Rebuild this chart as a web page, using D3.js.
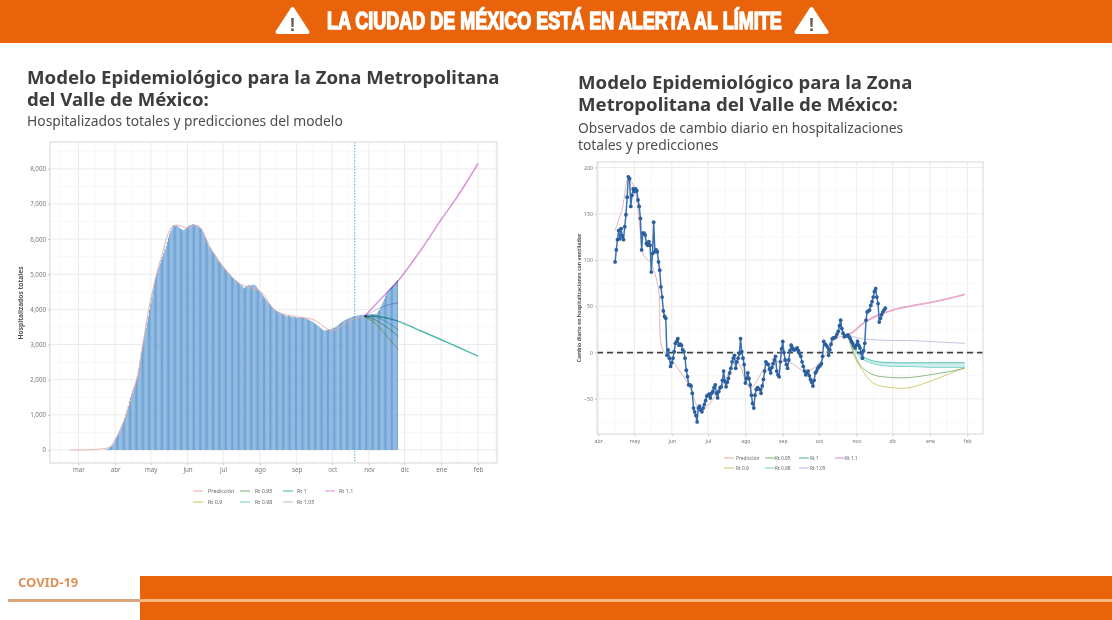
<!DOCTYPE html>
<html>
<head>
<meta charset="utf-8">
<script src="https://cdn.jsdelivr.net/npm/d3@7"></script>
<style>
  body { margin: 0; background: #fff; }
  svg { display: block; font-family: "Noto Sans", sans-serif; }
  .panel { filter: blur(0.7px); }
  .soft { filter: blur(0.45px); }
  .domain { display: none; }
</style>
</head>
<body>
<script>
// hospitalizados totales, un valor por dia desde el 24 de marzo
const hospStart = new Date(2020, 2, 24);
const hospValues = [10, 25, 40, 60, 85, 110, 140, 210, 280, 350, 420, 490, 560, 640, 710, 790, 900, 1010, 1120, 1250,
  1380, 1500, 1600, 1700, 1800, 1900, 2000, 2100, 2320, 2540, 2760, 2940, 3120, 3300, 3470, 3630, 3800, 3980, 4170,
  4350, 4540, 4720, 4900, 5010, 5110, 5220, 5310, 5410, 5500, 5600, 5700, 5800, 5920, 6040, 6150, 6230, 6310, 6380,
  6400, 6370, 6390, 6360, 6330, 6300, 6280, 6250, 6260, 6290, 6310, 6340, 6380, 6390, 6400, 6430, 6410, 6420, 6400,
  6380, 6360, 6330, 6300, 6280, 6200, 6130, 6050, 5970, 5880, 5800, 5750, 5690, 5640, 5600, 5550, 5500, 5450, 5400,
  5350, 5310, 5260, 5220, 5180, 5130, 5090, 5050, 5020, 4980, 4940, 4910, 4870, 4840, 4820, 4790, 4760, 4730, 4700,
  4670, 4630, 4600, 4640, 4670, 4680, 4700, 4670, 4680, 4710, 4690, 4690, 4650, 4600, 4560, 4510, 4470, 4420, 4370,
  4330, 4280, 4240, 4190, 4150, 4110, 4070, 4030, 4010, 3980, 3960, 3940, 3920, 3900, 3880, 3870, 3850, 3830, 3820,
  3800, 3820, 3810, 3780, 3790, 3780, 3790, 3770, 3750, 3760, 3780, 3790, 3780, 3770, 3780, 3750,
  3740, 3720, 3710, 3690, 3670, 3660, 3640, 3610, 3590, 3560, 3530, 3510, 3480, 3450, 3420, 3400, 3390, 3420, 3410,
  3430, 3420, 3440, 3450, 3480, 3470, 3500, 3520, 3550, 3580, 3610, 3640, 3660, 3680, 3700, 3710, 3730, 3740, 3760,
  3770, 3790, 3800, 3810, 3820, 3830, 3820, 3830, 3840, 3840, 3850, 3840, 3850, 3850, 3860, 3850, 3860, 3860, 3870,
  3860, 3870, 3880, 3880, 3950, 3990, 4060,
  4140, 4220, 4300, 4380, 4450, 4500, 4550, 4600, 4630, 4670, 4700, 4740, 4790, 4830];

const predDatesL = ["2020-02-23", "2020-03-10", "2020-03-20", "2020-03-27", "2020-04-01", "2020-04-10", "2020-04-20",
  "2020-04-25", "2020-05-01", "2020-05-10", "2020-05-20", "2020-06-01", "2020-06-10", "2020-06-20", "2020-07-01",
  "2020-07-15", "2020-08-01", "2020-08-15", "2020-09-01", "2020-09-15", "2020-10-01", "2020-10-15", "2020-10-28"];
const predValuesL = [0, 5, 30, 80, 300, 980, 2150, 3150, 4300, 5500, 6380, 6330, 6380, 5780, 5220, 4730, 4520, 3950,
  3790, 3710, 3400, 3670, 3800];

// escenarios panel izquierdo
const scenDatesL = ["2020-10-28", "2020-11-05", "2020-11-15", "2020-11-26", "2020-12-15", "2021-01-01", "2021-01-15", "2021-02-01"];
const rt11L = [3800, 4080, 4440, 4830, 5700, 6560, 7230, 8150];
const rt1L = [3800, 3810, 3760, 3660, 3385, 3135, 2930, 2670];
const rt105L = [3800, 3950, 4110, 4190];
const rt098L = [3800, 3790, 3660, 3410];
const rt095L = [3800, 3720, 3520, 3225];
const rt09L = [3800, 3640, 3280, 2845];

// cambio diario observado, un valor por dia desde el 15 de abril
const changeStart = new Date(2020, 3, 15);
const changeValues = [98, 111, 122, 132, 123, 134, 126, 122, 136, 149,
  168, 190, 188, 158, 170, 177, 174, 177, 175, 165,
  158, 145, 111, 129, 129, 127, 118, 116, 120, 116,
  87, 107, 141, 109, 111, 109, 98, 89, 71, 60,
  45, 39, 37, -3, 3, -6, -15, -11, -6, 1,
  10, 12, 15, 8, 9, 8, 3, 1, -6, -19,
  -26, -35, -35, -36, -44, -60, -64, -68, -75, -60,
  -58, -62, -64, -60, -56, -52, -47, -46, -45, -49,
  -44, -42, -38, -35, -44, -49, -42, -38, -37, -30,
  -20, -31, -37, -32, -28, -22, -17, -10, -6, -3,
  -17, -10, -6, -1, 15, 1, -6, -13, -33, -28,
  -22, -28, -35, -46, -55, -60, -46, -40, -38, -39,
  -40, -44, -36, -29, -20, -10, -12, -13, -18, -22,
  -16, -12, -8, -4, -20, -24, -26, -10, 4, 12,
  0, -8, -13, -17, -8, 2, 8, 5, 3, 3,
  4, 5, 2, -1, -4, -10, -15, -20, -24, -22,
  -20, -25, -29, -32, -36, -30, -22, -20, -17, -15,
  -14, -12, -4, 12, 9, 8, 6, -3, 3, 9,
  15, 16, 16, 17, 20, 23, 29, 35, 26, 21,
  17, 18, 18, 19, 17, 15, 12, 10, 7, 5,
  8, 12, 8, 5, 0, -6, 2, 10, 35, 44,
  45, 46, 51, 55, 60, 66, 69, 60, 53, 33,
  37, 41, 44, 46, 48];

const predDatesR = ["2020-04-15", "2020-04-21", "2020-04-26", "2020-05-01", "2020-05-05", "2020-05-09", "2020-05-14",
  "2020-05-21", "2020-05-24", "2020-06-01", "2020-06-15", "2020-06-25", "2020-07-10", "2020-07-25", "2020-08-05",
  "2020-08-20", "2020-09-05", "2020-09-20", "2020-10-01", "2020-10-15", "2020-10-25"];
const predValuesR = [132, 156, 188, 178, 141, 104, 98, 69, 5, -8, -35, -62, -42, -10, -38, -13, -10, -20, -12, 15, 19];

const scenDatesR = ["2020-10-25", "2020-10-30", "2020-11-05", "2020-11-15", "2020-12-01", "2020-12-15", "2021-01-01", "2021-01-15", "2021-01-30"];
const rt11R = [19, 23, 30, 38, 46, 50, 54, 58, 63];
const rt105R = [19, 17, 15, 14, 13, 13, 12, 11, 10];
const rt1R = [19, 6, -3, -9, -11, -11, -11, -11, -11];
const rt098R = [19, 4, -6, -12, -15, -15, -16, -16, -16];
const rt095R = [19, 0, -15, -24, -27, -27, -24, -21, -17];
const rt09R = [19, -3, -17, -33, -38, -38, -31, -24, -16];

const monthLabels = ["mar", "abr", "may", "jun", "jul", "ago", "sep", "oct", "nov", "dic", "ene", "feb"];
const monthDates = d3.timeMonth.range(new Date(2020, 2, 1), new Date(2021, 2, 1));
const cutDate = "2020-10-20";
const hospTicks = [0, 1000, 2000, 3000, 4000, 5000, 6000, 7000, 8000];
const changeTicks = [-50, 0, 50, 100, 150, 200];

const legendRow1 = ["Predicción", "Rt 0.95", "Rt 1", "Rt 1.1"];
const legendRow2 = ["Rt 0.9", "Rt 0.98", "Rt 1.05"];

const colors = {
  "Predicción": "#e8aaa4", "Rt 0.9": "#c9c562", "Rt 0.95": "#78b06e", "Rt 0.98": "#72d0c4",
  "Rt 1": "#3fb5a8", "Rt 1.05": "#c4b0e2", "Rt 1.1": "#d88ad8"
};

const parseDay = d3.timeParse("%Y-%m-%d");
const width = 1112, height = 620, orange = "#e8630a";
const svg = d3.select("body").append("svg").attr("width", width).attr("height", height);

// banda superior
svg.append("rect").attr("width", width).attr("height", 43).attr("fill", orange);
const head = svg.append("g").attr("class", "soft");
const headText = head.append("text").attr("font-family", "Liberation Sans").attr("font-weight", 700).attr("font-size", 24)
  .attr("fill", "#fff").attr("stroke", "#fff").attr("stroke-width", 1.5)
  .text("LA CIUDAD DE MÉXICO ESTÁ EN ALERTA AL LÍMITE");
headText.attr("transform", `translate(327,29) scale(${455 / headText.node().getComputedTextLength()},1)`);
[292.5, 811.5].forEach(cx => {
  head.append("path").attr("d", `M${cx},9 L${cx + 15},32 L${cx - 15},32 Z`)
    .attr("fill", "#fff").attr("stroke", "#fff").attr("stroke-width", 4).attr("stroke-linejoin", "round");
  head.append("text").attr("x", cx).attr("y", 31).attr("text-anchor", "middle")
    .attr("font-family", "Liberation Sans").attr("font-weight", 700).attr("font-size", 18).attr("fill", "#6b5a4a").text("!");
});

// banda inferior
svg.append("rect").attr("x", 140).attr("y", 576).attr("width", width - 140).attr("height", 44).attr("fill", orange);
svg.append("rect").attr("x", 140).attr("y", 599).attr("width", width - 140).attr("height", 3).attr("fill", "#fbb681");
svg.append("rect").attr("x", 8).attr("y", 599).attr("width", 132).attr("height", 3).attr("fill", "#dba57c");
svg.append("text").attr("class", "soft").attr("x", 18).attr("y", 587).attr("font-size", 13).attr("font-weight", 700)
  .attr("fill", "#dc9158").text("COVID-19");

// titulos
function titleBlock(x, lines, bold) {
  const t = svg.append("text").attr("class", "soft").attr("font-size", bold ? 18.6 : 13.85)
    .attr("font-weight", bold ? 700 : 400).attr("fill", bold ? "#3d3d3d" : "#4d4d4d");
  lines.forEach(l => t.append("tspan").attr("x", x).attr("y", l.y).text(l.t));
}
titleBlock(27, [{ t: "Modelo Epidemiológico para la Zona Metropolitana", y: 84 }, { t: "del Valle de México:", y: 106 }], true);
titleBlock(27, [{ t: "Hospitalizados totales y predicciones del modelo", y: 126 }], false);
titleBlock(578, [{ t: "Modelo Epidemiológico para la Zona", y: 89 }, { t: "Metropolitana del Valle de México:", y: 111 }], true);
titleBlock(578, [{ t: "Observados de cambio diario en hospitalizaciones", y: 133 }, { t: "totales y predicciones", y: 150 }], false);

function drawFrame(g, x, y, ticks, dates, labels, fontSize) {
  const [x0, x1] = x.range(), [y1, y0] = y.range();
  const step = ticks[1] - ticks[0];
  const minorY = d3.range(ticks[0] - step / 2, y.domain()[1], step).filter(v => y(v) > y0 && y(v) < y1);
  const minorX = d3.timeMonth.range(new Date(2020, 1, 1), new Date(2021, 2, 1))
    .map(d => d3.timeDay.offset(d, 14)).filter(d => x(d) > x0 && x(d) < x1);

  g.selectAll(".minorY").data(minorY).join("line").attr("x1", x0).attr("x2", x1)
    .attr("y1", d => y(d)).attr("y2", d => y(d)).attr("stroke", "#f3f3f3").attr("stroke-width", 0.6);
  g.selectAll(".minorX").data(minorX).join("line").attr("y1", y0).attr("y2", y1)
    .attr("x1", d => x(d)).attr("x2", d => x(d)).attr("stroke", "#f3f3f3").attr("stroke-width", 0.6);
  g.selectAll(".majorY").data(ticks).join("line").attr("x1", x0).attr("x2", x1)
    .attr("y1", d => y(d)).attr("y2", d => y(d)).attr("stroke", "#e9e9e9").attr("stroke-width", 0.9);
  g.selectAll(".majorX").data(dates).join("line").attr("y1", y0).attr("y2", y1)
    .attr("x1", d => x(d)).attr("x2", d => x(d)).attr("stroke", "#e9e9e9").attr("stroke-width", 0.9);

  const axisX = g.append("g").attr("transform", `translate(0,${y1})`)
    .call(d3.axisBottom(x).tickValues(dates).tickFormat((d, i) => labels[i]).tickSize(2).tickPadding(3));
  const axisY = g.append("g").attr("transform", `translate(${x0},0)`)
    .call(d3.axisLeft(y).tickValues(ticks).tickFormat(d3.format(",")).tickSize(2).tickPadding(2));
  [axisX, axisY].forEach(a => {
    a.selectAll("text").attr("font-size", fontSize).attr("fill", "#777").attr("font-family", "Noto Sans");
    a.selectAll("line").attr("stroke", "#999").attr("stroke-width", 0.6);
  });
}

function drawBorder(g, x, y) {
  const [x0, x1] = x.range(), [y1, y0] = y.range();
  g.append("rect").attr("x", x0).attr("y", y0).attr("width", x1 - x0).attr("height", y1 - y0)
    .attr("fill", "none").attr("stroke", "#dcdcdc").attr("stroke-width", 1.2);
}

function drawLegend(g, xs, textXs, rowYs, fontSize) {
  [legendRow1, legendRow2].forEach((row, r) => {
    row.forEach((name, i) => {
      g.append("line").attr("x1", xs[i]).attr("x2", xs[i] + 10).attr("y1", rowYs[r]).attr("y2", rowYs[r])
        .attr("stroke", colors[name]).attr("stroke-width", 1);
      g.append("text").attr("x", textXs[i]).attr("y", rowYs[r] + 2).attr("font-size", fontSize).attr("fill", "#666").text(name);
    });
  });
}

function yLabel(g, px, py, label, fontSize) {
  g.append("text").attr("transform", `translate(${px},${py}) rotate(-90)`).attr("text-anchor", "middle")
    .attr("font-size", fontSize).attr("font-weight", 700).attr("fill", "#555").text(label);
}

// panel izquierdo
const gL = svg.append("g").attr("class", "panel");
const xL = d3.scaleTime().domain([new Date(2020, 1, 6), new Date(2021, 1, 17)]).range([50, 497]);
const yL = d3.scaleLinear().domain([-370, 8762]).range([463, 142]);
drawFrame(gL, xL, yL, hospTicks, monthDates, monthLabels, 6.2);

const barW = xL(new Date(2020, 2, 2)) - xL(new Date(2020, 2, 1));
gL.selectAll(".bar").data(hospValues).join("rect")
  .attr("x", (d, i) => xL(d3.timeDay.offset(hospStart, i)) - barW / 2)
  .attr("y", d => yL(d))
  .attr("width", barW - 0.06)
  .attr("height", d => yL(0) - yL(d))
  .attr("fill", "#6fa4d6");

const lineL = d3.line().x(d => xL(d.date)).y(d => yL(d.value)).curve(d3.curveCatmullRom);
const zipDates = (dates, vals) => vals.map((v, i) => ({ date: parseDay(dates[i]), value: v }));

gL.append("path").attr("d", lineL(zipDates(predDatesL, predValuesL)))
  .attr("fill", "none").attr("stroke", colors["Predicción"]).attr("stroke-width", 0.9);

[["Rt 0.9", rt09L], ["Rt 0.95", rt095L], ["Rt 0.98", rt098L], ["Rt 1.05", rt105L], ["Rt 1", rt1L], ["Rt 1.1", rt11L]].forEach(([name, vals]) => {
  gL.append("path").attr("d", lineL(zipDates(scenDatesL, vals)))
    .attr("fill", "none").attr("stroke", colors[name]).attr("stroke-width", name === "Rt 1" || name === "Rt 1.1" ? 1.5 : 1)
    .attr("stroke-opacity", 0.9)
    .style("mix-blend-mode", "multiply");
});

gL.append("line").attr("x1", xL(parseDay(cutDate))).attr("x2", xL(parseDay(cutDate))).attr("y1", 142).attr("y2", 463)
  .attr("stroke", "#5aa6d6").attr("stroke-width", 1).attr("stroke-dasharray", "1.5,1.5");
drawBorder(gL, xL, yL);
yLabel(gL, 23, 303, "Hospitalizados totales", 6.6);
drawLegend(gL, [193, 240, 283, 325], [208, 255, 297, 339], [491, 502], 5.4);

// panel derecho
const gR = svg.append("g").attr("class", "panel");
const xR = d3.scaleTime().domain([new Date(2020, 2, 31), new Date(2021, 1, 14)]).range([597, 983]);
const yR = d3.scaleLinear().domain([-88, 206]).range([434, 162]);
drawFrame(gR, xR, yR, changeTicks, monthDates.slice(1), monthLabels.slice(1), 5.2);

const lineR = d3.line().x(d => xR(d.date)).y(d => yR(d.value)).curve(d3.curveCatmullRom);
gR.append("path").attr("d", lineR(zipDates(predDatesR, predValuesR)))
  .attr("fill", "none").attr("stroke", colors["Predicción"]).attr("stroke-width", 0.9);

// sombra entre Rt 1 y Rt 0.98
const bandR = d3.area().x(d => xR(d.date)).y0(d => yR(d.low)).y1(d => yR(d.value)).curve(d3.curveCatmullRom);
gR.append("path").attr("d", bandR(zipDates(scenDatesR, rt1R).map((d, i) => ({ ...d, low: rt098R[i] }))))
  .attr("fill", "#c6ecea").attr("fill-opacity", 0.85);

[["Rt 0.9", rt09R], ["Rt 0.95", rt095R], ["Rt 0.98", rt098R], ["Rt 1", rt1R], ["Rt 1.05", rt105R], ["Rt 1.1", rt11R]].forEach(([name, vals]) => {
  gR.append("path").attr("d", lineR(zipDates(scenDatesR, vals)))
    .attr("fill", "none").attr("stroke", name === "Rt 1.1" ? "#e79ac6" : colors[name])
    .attr("stroke-width", name === "Rt 1.1" ? 1.8 : 1)
    .attr("stroke-opacity", 0.85);
});

gR.append("line").attr("x1", 597).attr("x2", 983).attr("y1", yR(0)).attr("y2", yR(0))
  .attr("stroke", "#444").attr("stroke-width", 1.6).attr("stroke-dasharray", "6,4");

const changePts = changeValues.map((v, i) => ({ date: d3.timeDay.offset(changeStart, i), value: v }));
gR.append("path")
  .datum(changePts)
  .attr("fill", "none")
  .attr("stroke", "#3a72b4")
  .attr("stroke-width", 1.5)
  .attr("d", d3.line().x(d => xR(d.date)).y(d => yR(d.value)));
gR.selectAll(".pt").data(changePts).join("circle")
  .attr("cx", d => xR(d.date)).attr("cy", d => yR(d.value)).attr("r", 1.9).attr("fill", "#2b5f9e");

drawBorder(gR, xR, yR);
yLabel(gR, 581, 298, "Cambio diario en hospitalizaciones con ventilador", 5.2);
drawLegend(gR, [724, 765, 799, 835], [736, 775, 810, 845], [458, 468], 4.8);
</script>
</body>
</html>
